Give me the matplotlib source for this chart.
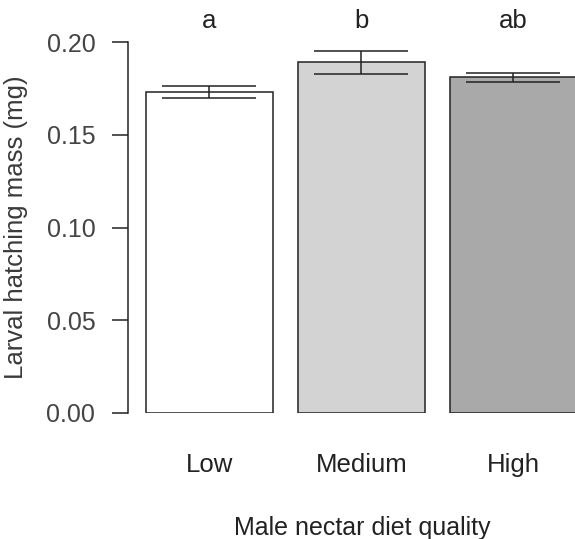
import matplotlib
matplotlib.use("Agg")
import matplotlib.pyplot as plt
import numpy as np

plt.rcParams['font.family'] = ['Liberation Sans', 'DejaVu Sans']

diet = ["Low", "Medium", "High"]
mass_mean = [0.173, 0.189, 0.181]
mass_se = [0.0032, 0.0061, 0.0023]
letters = ["a", "b", "ab"]
fills = ["white", "#d3d3d3", "#a9a9a9"]
yticks = [0.00, 0.05, 0.10, 0.15, 0.20]

# barplot-style positions: width 1, space 0.2
x = 0.2 + np.arange(len(diet)) * 1.2 + 0.5

fig = plt.figure(figsize=(5.75, 5.39), dpi=100)
ax = fig.add_axes([128/575, 126/539, 447/575, 371/539])

ax.bar(x, mass_mean, width=1.0, color=fills, edgecolor="#222222", linewidth=1.1, zorder=2)
ax.errorbar(x, mass_mean, yerr=mass_se, fmt="none", ecolor="#222222",
            elinewidth=1.1, capsize=34, capthick=1.1, zorder=3)

# significance letters above each bar
for xi, lab in zip(x, letters):
    ax.text(xi, 0.2115, lab, ha="center", va="center", fontsize=18.5, color="#222222", clip_on=False)

ax.set_xlim(0.058, 3.586)
ax.set_ylim(0, 0.2)
ax.set_yticks(yticks)
ax.set_yticklabels([f"{v:.2f}" for v in yticks], color="#444444")
ax.tick_params(axis="y", length=11.5, width=1.1, pad=12, labelsize=18, color="#222222")
ax.set_xticks(x)
ax.set_xticklabels(diet, color="#222222")
ax.tick_params(axis="x", length=0, pad=29, labelsize=18.5)

for s in ["top", "right", "bottom"]:
    ax.spines[s].set_visible(False)
ax.spines["left"].set_linewidth(1.1)
ax.spines["left"].set_color("#222222")

ax.set_ylabel("Larval hatching mass (mg)", fontsize=18.5, color="#3a3a3a")
ax.yaxis.set_label_coords(-100/447, 0.5)
fig.text(362/575, 1 - 528/539, "Male nectar diet quality", ha="center", va="center",
         fontsize=18, color="#222222")

fig.savefig("out.png", dpi=100)
